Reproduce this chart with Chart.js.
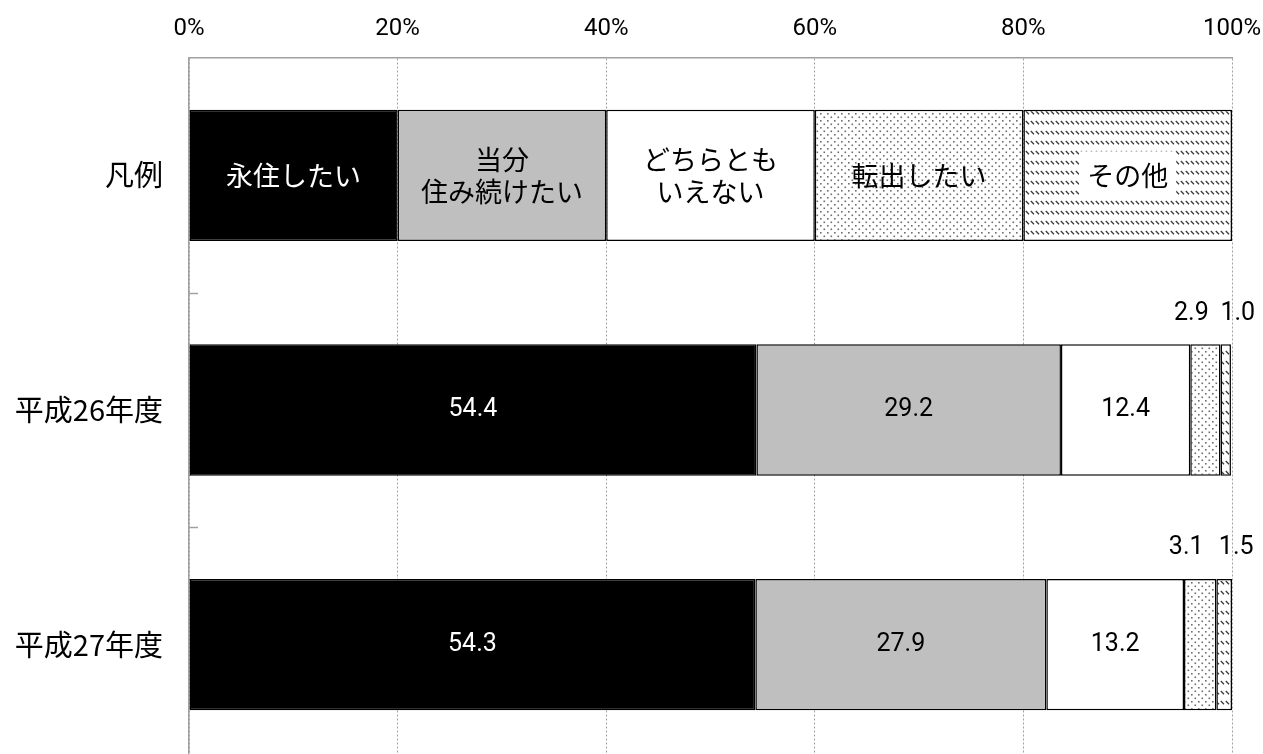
<!DOCTYPE html>
<html lang="ja">
<head>
<meta charset="utf-8">
<title>定住意向</title>
<script src="https://cdn.jsdelivr.net/npm/chart.js@4.4.1/dist/chart.umd.min.js"></script>
<style>
    html, body { margin: 0; padding: 0; background: #fff; overflow: hidden; }
    #wrap { position: relative; width: 1263px; height: 762px; }
</style>
</head>
<body>
<div id="wrap"><canvas id="residenceChart"></canvas></div>
<script>
const categories = ['凡例', '平成26年度', '平成27年度'];
const answers = ['永住したい', '当分住み続けたい', 'どちらともいえない', '転出したい', 'その他'];
const legendShares = [20, 20, 20, 20, 20];
const fy26Values = [54.4, 29.2, 12.4, 2.9, 1.0];
const fy27Values = [54.3, 27.9, 13.2, 3.1, 1.5];
const legendCaptions = [['永住したい'], ['当分', '住み続けたい'], ['どちらとも', 'いえない'], ['転出したい'], ['その他']];
const xTicks = [0, 20, 40, 60, 80, 100];

const JP_FONT = '"Noto Sans CJK JP", "Noto Sans", sans-serif';
const NUM_FONT = 'Roboto, "Liberation Sans", sans-serif';

const canvas = document.getElementById('residenceChart');
const ctx = canvas.getContext('2d');

// 網掛け（ドット）
function dotPattern() {
    const c = document.createElement('canvas');
    c.width = 7; c.height = 7;
    const g = c.getContext('2d');
    g.fillStyle = '#fff';
    g.fillRect(0, 0, 7, 7);
    g.fillStyle = '#6e6e6e';
    g.fillRect(1, 1, 1.6, 1.6);
    g.fillRect(4.5, 4.5, 1.6, 1.6);
    return ctx.createPattern(c, 'repeat');
}

// 斜線（破線）
function hatchPattern() {
    const c = document.createElement('canvas');
    c.width = 5; c.height = 10;
    const g = c.getContext('2d');
    g.fillStyle = '#fff';
    g.fillRect(0, 0, 5, 10);
    g.strokeStyle = '#3a3a3a';
    g.lineWidth = 1.3;
    g.beginPath();
    g.moveTo(0.8, 1);
    g.lineTo(4, 4.2);
    g.stroke();
    return ctx.createPattern(c, 'repeat');
}

const fills = ['#000000', '#bfbfbf', '#ffffff', dotPattern(), hatchPattern()];

// 区切りの目盛り（内向き）
const boundaryTicks = {
    id: 'boundaryTicks',
    afterDraw(chart) {
        const s = chart.scales.y;
        const c = chart.ctx;
        c.save();
        c.strokeStyle = '#a0a0a0';
        c.lineWidth = 1.5;
        for (let i = 1; i < categories.length; i++) {
            const y = Math.round((s.getPixelForValue(i - 1) + s.getPixelForValue(i)) / 2) + 0.5;
            c.beginPath();
            c.moveTo(s.right, y);
            c.lineTo(s.right + 9, y);
            c.stroke();
        }
        c.restore();
    }
};

// 凡例の文字と数値ラベル
const barLabels = {
    id: 'barLabels',
    afterDatasetsDraw(chart) {
        const c = chart.ctx;
        c.save();
        c.textAlign = 'center';
        c.textBaseline = 'middle';
        chart.data.datasets.forEach((ds, i) => {
            const meta = chart.getDatasetMeta(i);
            meta.data.forEach((bar, j) => {
                const cx = (bar.x + bar.base) / 2;
                const top = bar.y - bar.height / 2;
                if (j === 0) {
                    const lines = legendCaptions[i];
                    c.font = '27px ' + JP_FONT;
                    const lh = 32;
                    const y0 = bar.y - (lines.length - 1) * lh / 2;
                    if (i === 4) {
                        const w = c.measureText(lines[0]).width + 16;
                        c.fillStyle = '#fff';
                        c.fillRect(cx - w / 2, bar.y - 24, w, 48);
                    }
                    c.fillStyle = i === 0 ? '#fff' : '#000';
                    lines.forEach((t, k) => c.fillText(t, cx, y0 + k * lh));
                    return;
                }
                const v = ds.data[j];
                c.font = '25px ' + NUM_FONT;
                if (v < 5) {
                    const shift = i === 3 ? -14 : 12;
                    c.fillStyle = '#000';
                    c.fillText(v.toFixed(1), cx + shift, top - 31);
                } else {
                    c.fillStyle = i === 0 ? '#fff' : '#000';
                    c.fillText(v.toFixed(1), cx, bar.y);
                }
            });
        });
        c.restore();
    }
};

new Chart(ctx, {
    type: 'bar',
    data: {
        labels: categories,
        datasets: answers.map((name, i) => ({
            label: name,
            data: [legendShares[i], fy26Values[i], fy27Values[i]],
            backgroundColor: fills[i],
            borderColor: '#000',
            borderWidth: 1.5,
            borderSkipped: false,
            barPercentage: 0.56,
            categoryPercentage: 1
        }))
    },
    options: {
        indexAxis: 'y',
        responsive: true,
        maintainAspectRatio: false,
        animation: false,
        layout: { padding: { top: 0, bottom: 0, left: 0, right: 31 } },
        plugins: {
            legend: { display: false },
            tooltip: { enabled: false }
        },
        scales: {
            x: {
                position: 'top',
                stacked: true,
                min: 0,
                max: 100,
                afterBuildTicks: s => { s.ticks = xTicks.map(v => ({ value: v })); },
                afterFit: s => {
                    s.height = 58;
                    s.paddingLeft = 0;
                    s.paddingRight = 0;
                },
                ticks: {
                    callback: v => v + '%',
                    color: '#000',
                    font: { family: NUM_FONT, size: 24 },
                    padding: 15,
                    maxRotation: 0
                },
                grid: { color: '#a0a0a0', lineWidth: 1, drawTicks: false },
                border: { display: true, color: '#a0a0a0', width: 1.5, dash: [2, 2] }
            },
            y: {
                stacked: true,
                afterFit: s => {
                    s.width = 189;
                    s.paddingTop = 0;
                    s.paddingBottom = 0;
                },
                grid: { display: false, drawTicks: false },
                border: { display: true, color: '#a0a0a0', width: 1.5 },
                ticks: {
                    color: '#000',
                    font: { family: JP_FONT, size: 29 },
                    padding: 26
                }
            }
        }
    },
    plugins: [boundaryTicks, barLabels]
});
</script>
</body>
</html>
